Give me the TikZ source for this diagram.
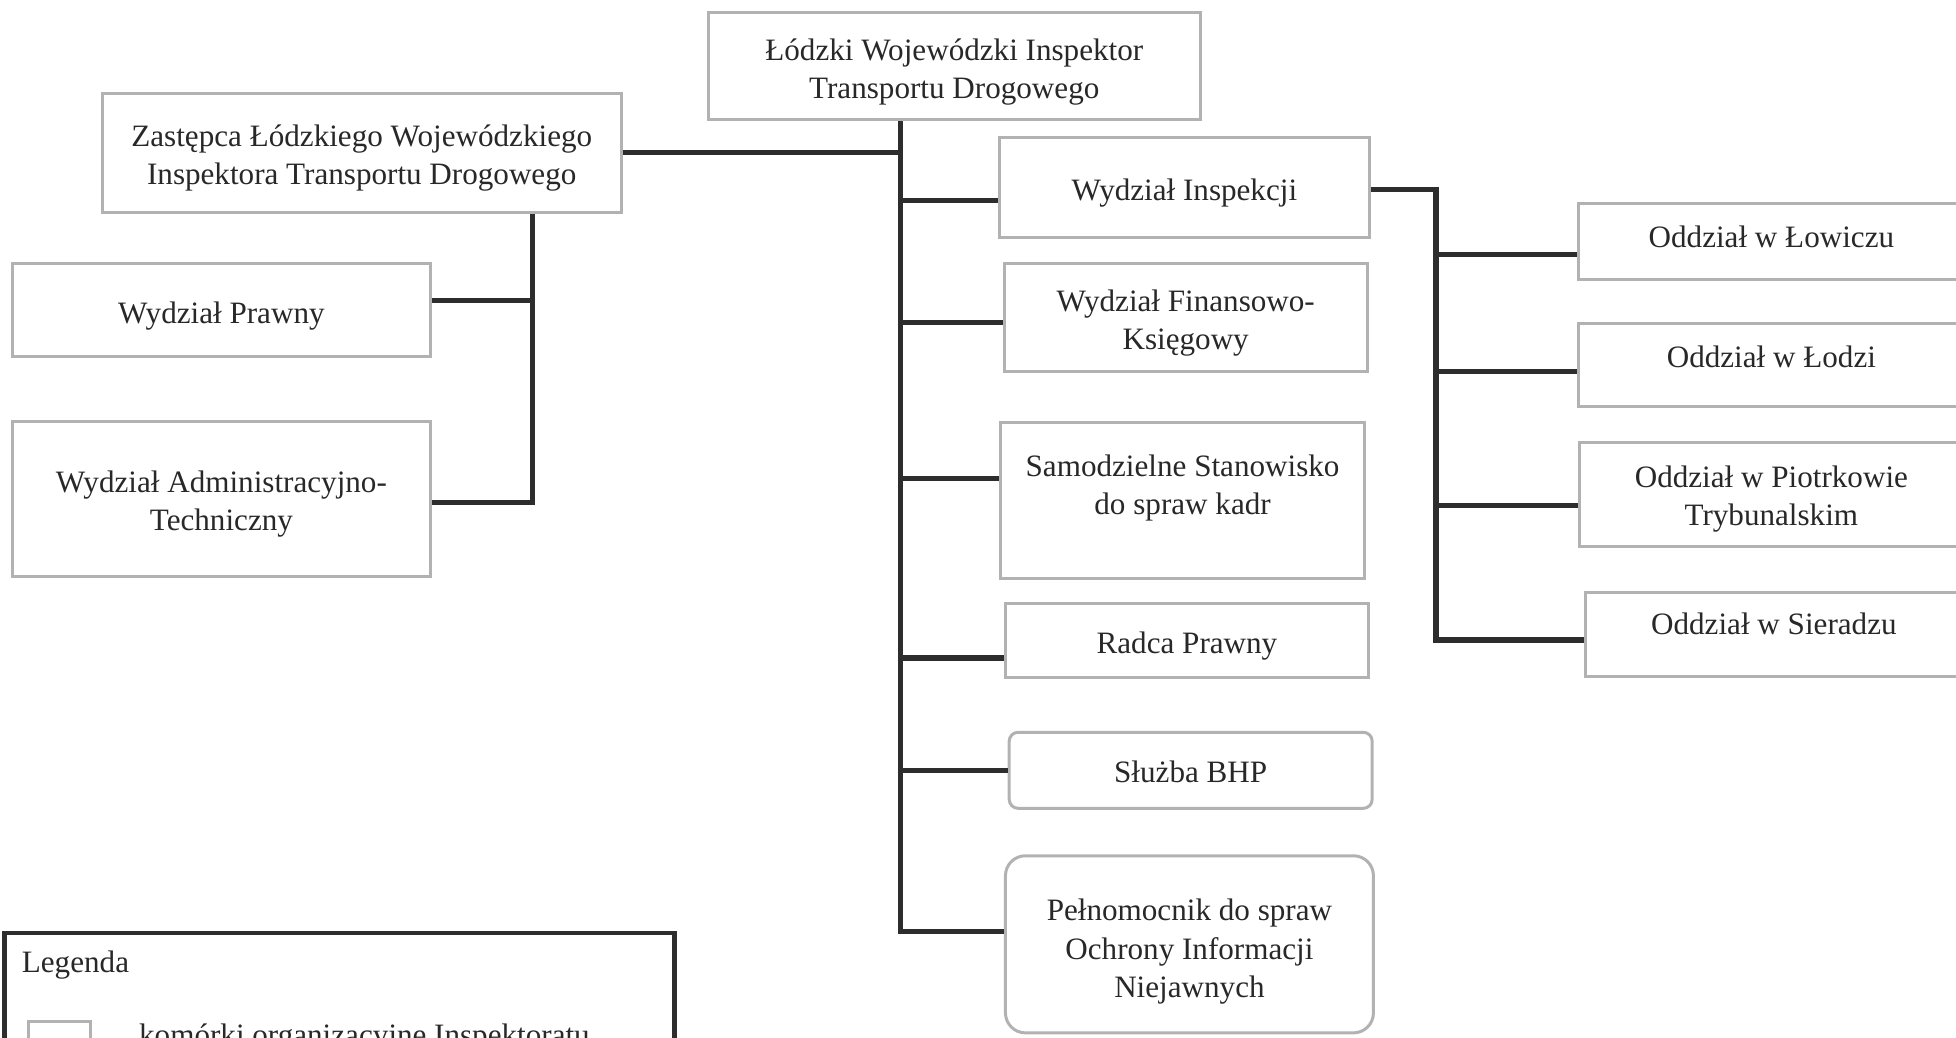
\documentclass[tikz,border=0pt]{standalone}
\usepackage{fontspec}
\setmainfont{Liberation Serif}
\usepackage{tikz}
\usetikzlibrary{positioning}

\definecolor{boxgray}{RGB}{178,178,178}
\definecolor{linegray}{RGB}{45,45,45}
\definecolor{textgray}{RGB}{40,40,40}

\newlength{\pxu}
\setlength{\pxu}{0.012474cm}

\tikzset{
  size/.style 2 args={minimum width=#1*\pxu, minimum height=#2*\pxu},
  unit/.style={draw=boxgray, line width=0.85pt, fill=white, inner sep=0pt},
  roundunit/.style={unit, rounded corners=#1},
  txt/.style={align=center, inner sep=0pt, text=textgray,
    font=\fontsize{8.85}{10.9}\selectfont},
  link/.style={draw=linegray, line width=1.5pt},
}

\begin{document}
\begin{tikzpicture}[x=\pxu, y=-\pxu]
\useasboundingbox (0,0) rectangle (1568,832);
\clip (0,0) rectangle (1568,832);

% top of the chart
\node[unit, size={394}{86}] (main) at (765,53) {};
\node[txt] (main-t) at (765,58) {Łódzki Wojewódzki Inspektor\\Transportu Drogowego};
\node[unit, size={416}{95}] (zast) at (290,122.5) {};
\node[txt] (zast-t) at (290,126.5) {Zastępca Łódzkiego Wojewódzkiego\\Inspektora Transportu Drogowego};

% left column
\node[unit, size={335}{75}] (prawny) at (177.5,248.5) {};
\node[txt] (prawny-t) at (177.5,253) {Wydział Prawny};
\node[unit, size={335}{124}] (admin) at (177.5,400) {};
\node[txt] (admin-t) at (177.5,404) {Wydział Administracyjno-\\Techniczny};

% middle column
\node[unit, size={297}{80}] (insp) at (949.5,150) {};
\node[txt] (insp-t) at (949.5,155) {Wydział Inspekcji};
\node[unit, size={291}{87}] (fin) at (950.5,254.5) {};
\node[txt] (fin-t) at (950.5,259) {Wydział Finansowo-\\Księgowy};
\node[unit, size={292}{125}] (kadr) at (948,401.5) {};
\node[txt] (kadr-t) at (948,391) {Samodzielne Stanowisko\\do spraw kadr};
\node[unit, size={291}{59}] (radca) at (951.5,513.5) {};
\node[txt] (radca-t) at (951.5,518) {Radca Prawny};
\node[roundunit=0.09cm, size={291}{61}] (bhp) at (954.5,617.5) {};
\node[txt] (bhp-t) at (954.5,619) {Służba BHP};
\node[roundunit=0.2cm, size={295}{142}] (pelnom) at (953.5,757) {};
\node[txt] (pelnom-t) at (953.5,763) {Pełnomocnik do spraw\\Ochrony Informacji\\Niejawnych};

% right column
\node[unit, size={310}{61}] (lowicz) at (1420,193.5) {};
\node[txt] (lowicz-t) at (1420,190) {Oddział w Łowiczu};
\node[unit, size={310}{67}] (lodzi) at (1420,292.5) {};
\node[txt] (lodzi-t) at (1420,286) {Oddział w Łodzi};
\node[unit, size={309}{83}] (piotr) at (1420.5,396.5) {};
\node[txt] (piotr-t) at (1420,400) {Oddział w Piotrkowie\\Trybunalskim};
\node[unit, size={304}{67}] (sieradz) at (1423,508.5) {};
\node[txt] (sieradz-t) at (1422,500) {Oddział w Sieradzu};

% connectors
\coordinate (trunktop) at ([xshift=-43*\pxu]main.south);
\foreach \n/\dy in {insp/-11, fin/-4, kadr/18, radca/-14, bhp/0, pelnom/10}
  \coordinate (\n-in) at ([yshift=\dy*\pxu]\n.west);
\draw[link] (trunktop) |- (pelnom-in);
\foreach \n in {insp, fin, kadr, radca, bhp}
  \draw[link] (trunktop |- \n-in) -- (\n-in);
\draw[link] (zast.east) -- (zast.east -| trunktop);

\coordinate (zdown) at ([xshift=137*\pxu]zast.south);
\coordinate (prawny-in) at ([yshift=7.5*\pxu]prawny.east);
\coordinate (admin-in) at ([yshift=-3*\pxu]admin.east);
\draw[link] (zdown) |- (admin-in);
\draw[link] (zdown |- prawny-in) -- (prawny-in);

\coordinate (obranch) at ([xshift=52*\pxu, yshift=-2*\pxu]insp.east);
\foreach \n/\dy in {lowicz/-10.5, lodzi/-5.5, piotr/-8.5, sieradz/-4.5}
  \coordinate (\n-in) at ([yshift=\dy*\pxu]\n.west);
\draw[link] ([yshift=-2*\pxu]insp.east) -- (obranch) |- (sieradz-in);
\foreach \n in {lowicz, lodzi, piotr}
  \draw[link] (obranch |- \n-in) -- (\n-in);

% legend
\node[draw=linegray, line width=1.2pt, fill=white, anchor=north west, size={537}{200}] (legend) at (2,746) {};
\node[txt, anchor=west] (legend-t) at (17,774) {Legenda};
\node[unit, anchor=north west, size={50}{32}] (legkey) at (21.5,818) {};
\node[txt, anchor=base west] (legkey-t) at (111,838) {komórki organizacyjne Inspektoratu};
\end{tikzpicture}
\end{document}
